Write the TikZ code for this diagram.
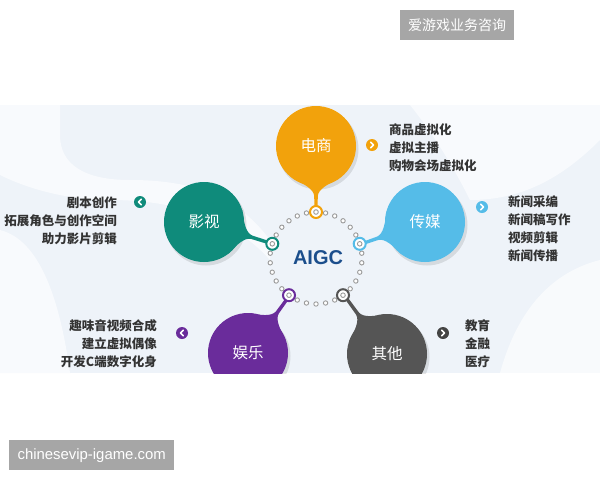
\documentclass[tikz,border=0pt]{standalone}
\usepackage{fontspec}
\setmainfont{Liberation Sans}
\newfontfamily\cjk{Noto Sans CJK SC}
\usetikzlibrary{calc}
\definecolor{cOrange}{HTML}{F2A20C}
\definecolor{cTeal}{HTML}{0F8B7B}
\definecolor{cBlue}{HTML}{55BCE8}
\definecolor{cPurple}{HTML}{6A2C9B}
\definecolor{cGrey}{HTML}{555555}
\definecolor{cAIGC}{HTML}{1B4E8C}
\definecolor{cText}{HTML}{333333}
\definecolor{cPanel}{HTML}{EEF3F9}
\definecolor{cLight}{HTML}{F8FAFD}
\definecolor{cWM}{HTML}{A6A6A6}
\definecolor{cDot}{HTML}{9A9A9A}
\tikzset{
  bubble/.style={circle, minimum size=80pt, inner sep=0pt, text=white,
    font=\cjk\fontsize{15.5}{15.5}\selectfont},
  conn/.style={circle, draw=#1, line width=2pt, fill=white, minimum size=12pt, inner sep=0pt},
  icon/.style={circle, fill=#1, minimum size=12pt, inner sep=0pt},
  chev/.style={white, line width=1.6pt, line cap=round, line join=round},
  ringdot/.style={draw=cDot, line width=0.9pt, fill=white},
  listtext/.style={inner sep=0pt, text=cText, font=\cjk\bfseries\fontsize{12.5}{18}\selectfont},
  wm/.style={fill=cWM, text=white, inner sep=0pt, anchor=north west},
  shadowc/.style={fill=black, opacity=0.10}
}
% #1 centre coordinate name, #2 rotation angle, #3 stem length, #4 colour
\newcommand\stemshape[4]{%
  \begin{scope}[shift={(#1)}, rotate=#2]
    \fill[#4] (32.8,22.9) .. controls (38,12) and (43,2.4) .. (50,1.8)
      -- (#3-4,1.6) -- (#3-4,-1.6) -- (50,-1.8)
      .. controls (43,-2.4) and (38,-12) .. (32.8,-22.9) -- cycle;
  \end{scope}}
\begin{document}
\begin{tikzpicture}[x=1pt,y=-1pt]
\useasboundingbox (0,0) rectangle (600,480);
\fill[white] (0,0) rectangle (600,480);
% background panel
\fill[cPanel] (0,105) rectangle (600,373);
\fill[cLight] (0,105) -- (60,105) -- (60,135) .. controls (60,165) and (85,180) .. (130,180)
  .. controls (200,180) and (240,200) .. (270,240) -- (270,260)
  .. controls (230,215) and (170,200) .. (110,200) .. controls (60,200) and (20,185) .. (0,175) -- cycle;
\fill[cLight] (0,230) .. controls (40,240) and (60,300) .. (70,373) -- (0,373) -- cycle;
\fill[cLight] (410,105) -- (600,105) -- (600,140) .. controls (560,180) and (520,200) .. (470,200)
  .. controls (450,160) and (430,130) .. (410,105) -- cycle;
\fill[white, opacity=0.6] (500,373) .. controls (520,300) and (560,270) .. (600,260) -- (600,373) -- cycle;
% centres
\coordinate (dsC) at (316,146);
\coordinate (ysC) at (204,222);
\coordinate (cmC) at (425,222);
\coordinate (ylC) at (248,353);
\coordinate (qtC) at (387,354);
\begin{scope}
\clip (0,105) rectangle (600,373);
% ring dots
\foreach \i in {0,...,29}{
  \pgfmathtruncatemacro\m{mod(\i,6)}
  \ifnum\m=0\relax\else
    \draw[ringdot] ({316+46*cos(90+12*\i)},{258-46*sin(90+12*\i)}) circle (2.2);
  \fi
}
% shadows
\foreach \c in {dsC,ysC,cmC,ylC,qtC}{
  \fill[shadowc] ($(\c)+(2,3)$) circle (40.5);
}
% stems
\stemshape{dsC}{-90}{66}{cOrange}
\stemshape{ysC}{-17.7}{72.4}{cTeal}
\stemshape{cmC}{-161}{67.7}{cBlue}
\stemshape{ylC}{54.1}{71.6}{cPurple}
\stemshape{qtC}{126.1}{73}{cGrey}
% bubbles
\node[bubble, fill=cOrange] (ds) at (dsC) {电商};
\node[bubble, fill=cTeal] (ys) at (ysC) {影视};
\node[bubble, fill=cBlue] (cm) at (cmC) {传媒};
\node[bubble, fill=cPurple] (yl) at (ylC) {娱乐};
\node[bubble, fill=cGrey] (qt) at (qtC) {其他};
% connectors on ring
\node[conn=cOrange] (dsK) at (316,212) {};
\node[conn=cTeal] (ysK) at (272.3,243.8) {};
\node[conn=cBlue] (cmK) at (359.7,243.8) {};
\node[conn=cPurple] (ylK) at (289,295.2) {};
\node[conn=cGrey] (qtK) at (343,295.2) {};
\foreach \k in {dsK,ysK,cmK,ylK,qtK}{
  \draw[draw=cDot, line width=0.9pt] (\k.center) circle (2.3);
}
\end{scope}
% centre label
\node[text=cAIGC, font=\bfseries\fontsize{20}{20}\selectfont, inner sep=0pt] (aigc) at (318,257.5) {AIGC};
% icons
\node[icon=cOrange] (dsI) at (372,145) {};
\draw[chev] ($(dsI)+(-1.2,-2.7)$) -- ++(2.7,2.7) -- ++(-2.7,2.7);
\node[icon=cBlue] (cmI) at (482,207) {};
\draw[chev] ($(cmI)+(-1.2,-2.7)$) -- ++(2.7,2.7) -- ++(-2.7,2.7);
\node[icon=cTeal] (ysI) at (140,202) {};
\draw[chev] ($(ysI)+(1.2,-2.7)$) -- ++(-2.7,2.7) -- ++(2.7,2.7);
\node[icon=cPurple] (ylI) at (182,333) {};
\draw[chev] ($(ylI)+(1.2,-2.7)$) -- ++(-2.7,2.7) -- ++(2.7,2.7);
\node[icon=cGrey!80!black] (qtI) at (443,333) {};
\draw[chev] ($(qtI)+(-1.2,-2.7)$) -- ++(2.7,2.7) -- ++(-2.7,2.7);
% lists
\node[listtext, anchor=west, align=left] (dsL) at (389,147.5) {商品虚拟化\\虚拟主播\\购物会场虚拟化};
\node[listtext, anchor=west, align=left] (cmL) at (508,229) {新闻采编\\新闻稿写作\\视频剪辑\\新闻传播};
\node[listtext, anchor=east, align=right] (ysL) at (117,220.5) {剧本创作\\拓展角色与创作空间\\助力影片剪辑};
\node[listtext, anchor=east, align=right] (ylL) at (157,343.5) {趣味音视频合成\\建立虚拟偶像\\开发C端数字化身};
\node[listtext, anchor=west, align=left] (qtL) at (465,344) {教育\\金融\\医疗};
% watermarks
\node[wm, minimum width=114pt, minimum height=30pt] (wm1) at (400,10) {};
\node[text=white, inner sep=0pt, font=\cjk\fontsize{14}{14}\selectfont] at (wm1.center) {爱游戏业务咨询};
\node[wm, minimum width=165pt, minimum height=30pt] (wm2) at (9,440) {};
\node[text=white, inner sep=0pt, font=\fontsize{14.9}{14.9}\selectfont] at (wm2.center) {chinesevip-igame.com};
\end{tikzpicture}
\end{document}
